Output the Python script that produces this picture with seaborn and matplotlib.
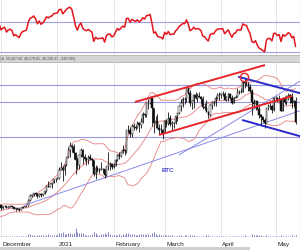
import numpy as np
import pandas as pd
import seaborn as sns
import matplotlib
matplotlib.use("Agg")
import matplotlib.pyplot as plt
import matplotlib.dates as mdates
from matplotlib.patches import Rectangle

# daily closes from 2020-11-01 (November only feeds the indicators)
close_start = "2020-11-01"
close = [
    13740, 13550, 14030, 14150, 15590, 15580, 14830, 15480, 15330, 15300,
    15700, 16280, 16320, 16070, 15960, 16730, 17650, 17780, 17820, 18620,
    18680, 18370, 18360, 19160, 18720, 17150, 17140, 17720, 18180, 19630,
    # Dec
    18800, 19200, 19450, 18700, 19150, 19360, 19170, 18320, 18550, 18260,
    18050, 18800, 19160, 19270, 19440, 21310, 22810, 23140, 23870, 23480,
    22740, 23780, 23240, 23730, 24660, 26440, 26250, 27040, 27360, 28840, 29000,
    # Jan
    29370, 32130, 32780, 31970, 33990, 36820, 39370, 40800, 40250, 38240,
    35550, 33920, 37320, 39190, 36830, 36180, 35790, 36630, 36070, 35550,
    30820, 33000, 32100, 32290, 32370, 32570, 30430, 33470, 34320, 34270, 33110,
    # Feb
    33540, 35510, 37470, 36930, 38140, 39260, 38900, 46200, 46480, 44920,
    47910, 47500, 47100, 48720, 47940, 49200, 52150, 51680, 55890, 56100,
    57540, 54210, 48820, 49710, 47080, 46340, 46190, 45140,
    # Mar
    49630, 48380, 50540, 48560, 48930, 48910, 51210, 52380, 54880, 55880,
    57480, 57340, 61240, 59300, 55910, 56800, 58870, 57860, 58350, 58100,
    57350, 54530, 54200, 52770, 51710, 55140, 55970, 55780, 57630, 58730, 58920,
    # Apr
    59010, 59030, 57090, 58210, 59120, 57600, 56020, 57860, 58210, 59820,
    59890, 59830, 63500, 63110, 62940, 61450, 60060, 56220, 55720, 56470,
    53910, 51760, 51090, 50050, 49000, 54020, 55030, 54820, 53560, 57750,
    # May
    57830, 56630, 57210, 53240, 57470, 56430, 57360, 58800, 58230, 55860,
    56700, 49150,
]

# candles shown from 2020-12-01
candle_start = "2020-12-01"
high = [
    19850, 19300, 19600, 19500, 19180, 19420, 19400, 19290, 18640, 18560,
    18290, 18950, 19400, 19350, 19570, 21560, 23700, 23290, 24100, 24170,
    24100, 23830, 24020, 23780, 24710, 26710, 28290, 27390, 27370, 28900, 29300,
    29600, 33300, 34800, 33600, 34400, 36880, 40180, 41950, 41380, 41350,
    38350, 36600, 37600, 40000, 39700, 37900, 36850, 37300, 37850, 36400,
    35550, 33800, 33500, 32900, 34800, 32900, 32560, 33730, 38400, 34900, 34300,
    34640, 35900, 37660, 38620, 38300, 40900, 39600, 46200, 48000, 47300,
    48600, 48900, 48100, 49700, 48850, 50500, 52600, 52500, 56300, 57500,
    58350, 57500, 54200, 51300, 52000, 48400, 48300, 46700,
    49790, 50100, 52600, 51800, 49400, 49200, 51400, 52400, 54900, 57200,
    57980, 58100, 61700, 61600, 60600, 56900, 58980, 60000, 59400, 59880,
    58400, 58400, 55800, 57100, 53200, 55400, 56600, 56800, 58400, 59300, 59800,
    59400, 60100, 59700, 58460, 59300, 59500, 58600, 58150, 58900, 61200,
    60600, 61200, 63700, 64800, 63700, 63500, 62500, 61000, 57500, 57000,
    56700, 55400, 52100, 51200, 50500, 54300, 55400, 56400, 55200, 57900,
    58400, 57950, 58900, 57000, 57900, 58300, 58600, 59400, 59200, 59500,
    56900, 58000,
]
low = [
    18000, 18330, 18900, 18600, 18600, 18900, 18920, 18200, 17650, 18150,
    17590, 18030, 18730, 19000, 19060, 19290, 21240, 22420, 22750, 23080,
    22350, 22640, 22720, 22800, 23450, 24500, 25990, 26090, 25920, 27350, 28000,
    28800, 29030, 32000, 28100, 30400, 33500, 36300, 36600, 38700, 35900,
    30550, 32600, 32500, 36800, 34400, 35400, 33900, 34400, 35800, 33400,
    30100, 28900, 31400, 30900, 32000, 30900, 29400, 30000, 32000, 32000, 32400,
    33000, 33500, 35400, 36200, 36600, 38200, 37400, 38100, 45200, 43800,
    43900, 46300, 46300, 47100, 45800, 47100, 48900, 50900, 50900, 53900,
    55500, 47600, 45100, 47100, 46900, 44900, 45100, 43200,
    45100, 47300, 48200, 47600, 46300, 47100, 48600, 49600, 51900, 53200,
    54400, 55400, 56300, 59100, 54800, 53900, 54300, 57200, 56400, 57900,
    55600, 53800, 53400, 52600, 50500, 51400, 53900, 54700, 54900, 57200, 57100,
    57800, 58500, 56900, 56500, 56500, 57400, 55500, 55900, 57600, 57900,
    59000, 59400, 59800, 61300, 62000, 60100, 59700, 51500, 54200, 53600,
    53700, 50600, 47700, 49100, 47000, 48900, 53300, 53900, 52400, 53100,
    56900, 56200, 56500, 53100, 53100, 55400, 55300, 56900, 55900, 54200,
    54600, 48600,
]
volume = [
    1.2, 1.0, 0.8, 1.0, 0.6, 0.5, 0.7, 1.1, 1.0, 0.9, 1.0, 0.6, 0.6, 0.8, 0.9,
    2.5, 3.0, 1.8, 1.5, 1.2, 1.6, 1.5, 2.0, 1.4, 1.2, 2.2, 3.2, 1.8, 1.6, 2.2, 2.0,
    1.5, 3.5, 4.0, 5.5, 3.0, 3.0, 4.5, 4.0, 2.5, 4.5, 9.5, 5.0, 3.5, 4.0, 4.5,
    2.0, 2.2, 2.0, 2.2, 3.0, 5.0, 4.5, 2.0, 1.5, 2.5, 2.5, 3.5, 3.0, 5.5, 2.5, 1.8,
    1.8, 2.2, 2.2, 2.8, 2.0, 2.5, 2.0, 4.0, 3.5, 2.5, 2.8, 2.5, 1.8, 1.8,
    2.5, 2.4, 2.5, 1.8, 2.5, 2.5, 1.8, 4.5, 5.0, 3.0, 2.0, 2.5, 1.5, 1.5,
    2.0, 1.5, 1.5, 1.5, 1.5, 1.0, 1.0, 1.2, 1.5, 1.5, 1.2, 1.4, 1.6, 1.0, 1.8,
    1.5, 1.5, 1.2, 1.0, 0.8, 0.8, 1.2, 1.2, 1.5, 1.5, 1.2, 0.8, 0.8, 1.0, 1.0, 1.2,
    1.2, 1.0, 1.0, 0.8, 1.0, 1.0, 1.2, 1.0, 0.8, 1.0, 0.8, 1.0, 1.2, 1.5, 1.0,
    1.2, 1.0, 2.5, 1.5, 1.5, 1.4, 1.8, 2.0, 1.2, 1.0, 1.6, 1.2, 1.0, 1.0, 1.2,
    0.9, 0.8, 1.0, 1.4, 1.2, 1.1, 1.0, 0.9, 1.0, 1.4, 1.2, 2.2,
]

# horizontal levels on the price panel and the oscillator panel
price_levels = [62300, 56300, 43850]
osc_levels = [70, 30]

# hand-drawn trend lines: (dates, prices)
red_upper = (["2021-02-12 16:00", "2021-04-25 05:00"], [56280, 69400])
red_lower = (["2021-02-25 22:00", "2021-05-10 03:00"], [44570, 58400])
blue_upper = (["2021-04-10 10:00", "2021-05-15 12:00"], [65260, 59230])
blue_lower = (["2021-04-12 14:00", "2021-05-15 12:00"], [49900, 43960])
thin_lines = [
    (["2020-12-14 05:00", "2021-05-15 12:00"], [19700, 53400]),
    (["2021-03-08 22:00", "2021-05-15 12:00"], [37470, 64090]),
]
peak_mark = ("2021-04-13 17:00", 65150)
now_line = "2021-05-14 12:00"

month_ticks = ["2020-12-01", "2021-01-01", "2021-02-01", "2021-03-01", "2021-04-01", "2021-05-01"]
month_labels = ["December", "2021", "February", "March", "April", "May"]
header = "4t, 50,427.00, 49,179.01, 49,150.37, -330.590)"

# indicators
s = pd.Series(close, index=pd.date_range(close_start, periods=len(close)))
mid = s.rolling(20).mean()
sd = s.rolling(20).std(ddof=0)
delta = s.diff()
gain = delta.clip(lower=0).ewm(alpha=1 / 14, adjust=False).mean()
loss = (-delta.clip(upper=0)).ewm(alpha=1 / 14, adjust=False).mean()
rsi = 100 - 100 / (1 + gain / loss)

days = pd.date_range(candle_start, periods=len(high))
x = mdates.date2num(days)
c = s[days].values
o = s.shift(1)[days].values
hi = np.maximum(high, np.maximum(o, c))
lo = np.minimum(low, np.minimum(o, c))
xall = mdates.date2num(s.index)

sns.set_theme(style="white")
plt.rcParams["font.family"] = ["Liberation Sans", "DejaVu Sans"]

W, H = 300, 250
fig = plt.figure(figsize=(W / 100, H / 100), dpi=100)


def box(top, bottom):
    return [0, 1 - bottom / H, 1, (bottom - top) / H]


ax_osc = fig.add_axes(box(0, 55))
ax_px = fig.add_axes(box(62, 227))
ax_vol = fig.add_axes(box(227, 237))

x0 = mdates.date2num(pd.Timestamp("2020-12-01")) - 0.55
x1 = x0 + W / 1.818
tick_x = mdates.date2num(pd.to_datetime(month_ticks))

for ax in (ax_osc, ax_px, ax_vol):
    ax.set_xlim(x0, x1)
    for sp in ax.spines.values():
        sp.set_visible(False)
    ax.set_yticks([])
    for t in tick_x:
        ax.axvline(t, color="#e2e2e2", lw=0.6, zorder=0)
    ax.axvline(mdates.date2num(pd.Timestamp(now_line)), color="#6f6fe0", lw=0.8, zorder=1)

# oscillator panel
ax_osc.set_ylim(25.5, 100.3)
for lv in osc_levels:
    ax_osc.axhline(lv, color="#a0a0e8", lw=0.8, zorder=1)
sns.lineplot(x=xall, y=rsi.values, ax=ax_osc, color="#e3161c", lw=1.1, zorder=3)
ax_osc.set_xticks([])

# header strip between panels
fig.patches.append(Rectangle((0, 1 - 62 / H), 1, 7 / H, transform=fig.transFigure,
                             facecolor="#d6d6d6", edgecolor="#a9a9a9", lw=0.5))
fig.text(1 / W, 1 - 58.6 / H, header, fontsize=2.6, va="center", color="#444444")

# price panel
ax_px.set_ylim(11900, 70480)
for lv in price_levels:
    ax_px.axhline(lv, color="#9a9ae6", lw=0.8, zorder=1)
for band in (mid + 2 * sd, mid, mid - 2 * sd):
    sns.lineplot(x=xall, y=band.values, ax=ax_px, color="#e88080", lw=0.6, zorder=2)

for xs, ys in thin_lines:
    ax_px.plot(mdates.date2num(pd.to_datetime(xs)), ys, color="#8a8ae8", lw=0.7, zorder=2)

up = c >= o
ax_px.vlines(x, lo, hi, color="#111111", lw=0.6, zorder=4)
ax_px.bar(x[up], (c - o)[up], bottom=o[up], width=0.75, color="white",
          edgecolor="#111111", lw=0.35, zorder=5)
ax_px.bar(x[~up], (o - c)[~up], bottom=c[~up], width=0.75, color="#111111",
          edgecolor="#111111", lw=0.35, zorder=5)

for (xs, ys), col in ((red_upper, "#e8262a"), (red_lower, "#e8262a"),
                      (blue_upper, "#2a2ac8"), (blue_lower, "#2a2ac8")):
    ax_px.plot(mdates.date2num(pd.to_datetime(xs)), ys, color=col, lw=1.4, zorder=6,
               solid_capstyle="butt")
ax_px.plot(mdates.date2num(pd.Timestamp(peak_mark[0])), peak_mark[1], marker="o", ms=6,
           mfc="none", mec="#e8262a", mew=1.0, zorder=7)
ax_px.text(mdates.date2num(pd.Timestamp("2021-03-03")), 32100, "BTC", color="#4545cc",
           fontsize=4.4, fontweight="bold", ha="center", va="center")
ax_px.axhline(11900, color="#c8c8c8", lw=0.8)
ax_px.set_xticks([])

# volume panel
ax_vol.set_ylim(-0.4, 10.5)
ax_vol.vlines(x, 0, volume, color="#7070c0", lw=0.6)
ax_vol.axhline(0, color="#a0a0d0", lw=0.5)
ax_vol.set_xticks(tick_x)
ax_vol.set_xticklabels(month_labels, ha="left", fontsize=4.6, color="#222222")
ax_vol.tick_params(axis="x", length=9, width=0.6, color="#d0d0d0", pad=-5.5, direction="out")
for lab in ax_vol.get_xticklabels():
    lab.set_transform(lab.get_transform() + matplotlib.transforms.ScaledTranslation(1.5 / 100, 0, fig.dpi_scale_trans))

# scrollbar strip at the bottom
fig.patches.append(Rectangle((0, 0), 250 / W, 3 / H, transform=fig.transFigure,
                             facecolor="#d0d0d0", edgecolor="none"))

fig.savefig("out.png", dpi=100)
